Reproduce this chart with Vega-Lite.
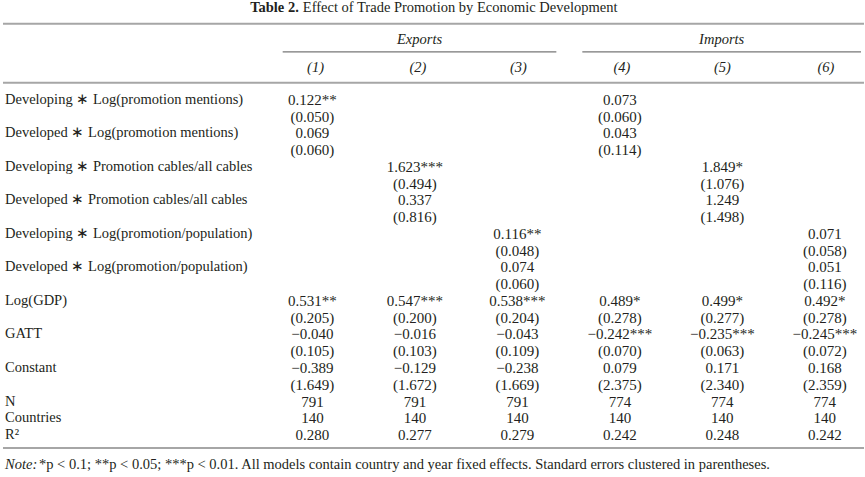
{
  "$schema": "https://vega.github.io/schema/vega-lite/v6.json",
  "width": 865,
  "height": 477,
  "autosize": {"type": "fit", "contains": "padding"},
  "padding": 0,
  "background": "white",
  "config": {"view": {"stroke": null}},
  "datasets": {
    "title": [{"row": -5.476, "col": 0.867, "bold": "Table 2.", "rest": "Effect of Trade Promotion by Economic Development"}],
    "groups": [
      {"row": -3.571, "col": 2.045, "text": "Exports"},
      {"row": -3.571, "col": 4.993, "text": "Imports"},
      {"row": -1.905, "col": 1.03, "text": "(1)"},
      {"row": -1.905, "col": 2.03, "text": "(2)"},
      {"row": -1.905, "col": 3.01, "text": "(3)"},
      {"row": -1.905, "col": 4.02, "text": "(4)"},
      {"row": -1.905, "col": 5.0, "text": "(5)"},
      {"row": -1.905, "col": 6.01, "text": "(6)"}
    ],
    "thickRules": [
      {"row": -4.542, "col": -2.0195, "col2": 6.382},
      {"row": -1.012, "col": -2.0195, "col2": 6.382},
      {"row": 20.77, "col": -2.0195, "col2": 6.382}
    ],
    "thinRules": [
      {"row": -2.857, "col": 0.7096, "col2": 3.38},
      {"row": -2.857, "col": 3.6335, "col2": 6.3529}
    ],
    "labels": [
      {"row": 0, "col": -2, "text": "Developing ∗ Log(promotion mentions)"},
      {"row": 2, "col": -2, "text": "Developed ∗ Log(promotion mentions)"},
      {"row": 4, "col": -2, "text": "Developing ∗ Promotion cables/all cables"},
      {"row": 6, "col": -2, "text": "Developed ∗ Promotion cables/all cables"},
      {"row": 8, "col": -2, "text": "Developing ∗ Log(promotion/population)"},
      {"row": 10, "col": -2, "text": "Developed ∗ Log(promotion/population)"},
      {"row": 12, "col": -2, "text": "Log(GDP)"},
      {"row": 14, "col": -2, "text": "GATT"},
      {"row": 16, "col": -2, "text": "Constant"},
      {"row": 18, "col": -2, "text": "N"},
      {"row": 19, "col": -2, "text": "Countries"},
      {"row": 20, "col": -2, "text": "R²"}
    ],
    "cells": [
      {"row": 0, "col": 1, "text": "0.122**"}, {"row": 0, "col": 4, "text": "0.073"},
      {"row": 1, "col": 1, "text": "(0.050)"}, {"row": 1, "col": 4, "text": "(0.060)"},
      {"row": 2, "col": 1, "text": "0.069"}, {"row": 2, "col": 4, "text": "0.043"},
      {"row": 3, "col": 1, "text": "(0.060)"}, {"row": 3, "col": 4, "text": "(0.114)"},
      {"row": 4, "col": 2, "text": "1.623***"}, {"row": 4, "col": 5, "text": "1.849*"},
      {"row": 5, "col": 2, "text": "(0.494)"}, {"row": 5, "col": 5, "text": "(1.076)"},
      {"row": 6, "col": 2, "text": "0.337"}, {"row": 6, "col": 5, "text": "1.249"},
      {"row": 7, "col": 2, "text": "(0.816)"}, {"row": 7, "col": 5, "text": "(1.498)"},
      {"row": 8, "col": 3, "text": "0.116**"}, {"row": 8, "col": 6, "text": "0.071"},
      {"row": 9, "col": 3, "text": "(0.048)"}, {"row": 9, "col": 6, "text": "(0.058)"},
      {"row": 10, "col": 3, "text": "0.074"}, {"row": 10, "col": 6, "text": "0.051"},
      {"row": 11, "col": 3, "text": "(0.060)"}, {"row": 11, "col": 6, "text": "(0.116)"},
      {"row": 12, "col": 1, "text": "0.531**"}, {"row": 12, "col": 2, "text": "0.547***"}, {"row": 12, "col": 3, "text": "0.538***"},
      {"row": 12, "col": 4, "text": "0.489*"}, {"row": 12, "col": 5, "text": "0.499*"}, {"row": 12, "col": 6, "text": "0.492*"},
      {"row": 13, "col": 1, "text": "(0.205)"}, {"row": 13, "col": 2, "text": "(0.200)"}, {"row": 13, "col": 3, "text": "(0.204)"},
      {"row": 13, "col": 4, "text": "(0.278)"}, {"row": 13, "col": 5, "text": "(0.277)"}, {"row": 13, "col": 6, "text": "(0.278)"},
      {"row": 14, "col": 1, "text": "−0.040"}, {"row": 14, "col": 2, "text": "−0.016"}, {"row": 14, "col": 3, "text": "−0.043"},
      {"row": 14, "col": 4, "text": "−0.242***"}, {"row": 14, "col": 5, "text": "−0.235***"}, {"row": 14, "col": 6, "text": "−0.245***"},
      {"row": 15, "col": 1, "text": "(0.105)"}, {"row": 15, "col": 2, "text": "(0.103)"}, {"row": 15, "col": 3, "text": "(0.109)"},
      {"row": 15, "col": 4, "text": "(0.070)"}, {"row": 15, "col": 5, "text": "(0.063)"}, {"row": 15, "col": 6, "text": "(0.072)"},
      {"row": 16, "col": 1, "text": "−0.389"}, {"row": 16, "col": 2, "text": "−0.129"}, {"row": 16, "col": 3, "text": "−0.238"},
      {"row": 16, "col": 4, "text": "0.079"}, {"row": 16, "col": 5, "text": "0.171"}, {"row": 16, "col": 6, "text": "0.168"},
      {"row": 17, "col": 1, "text": "(1.649)"}, {"row": 17, "col": 2, "text": "(1.672)"}, {"row": 17, "col": 3, "text": "(1.669)"},
      {"row": 17, "col": 4, "text": "(2.375)"}, {"row": 17, "col": 5, "text": "(2.340)"}, {"row": 17, "col": 6, "text": "(2.359)"},
      {"row": 18, "col": 1, "text": "791"}, {"row": 18, "col": 2, "text": "791"}, {"row": 18, "col": 3, "text": "791"},
      {"row": 18, "col": 4, "text": "774"}, {"row": 18, "col": 5, "text": "774"}, {"row": 18, "col": 6, "text": "774"},
      {"row": 19, "col": 1, "text": "140"}, {"row": 19, "col": 2, "text": "140"}, {"row": 19, "col": 3, "text": "140"},
      {"row": 19, "col": 4, "text": "140"}, {"row": 19, "col": 5, "text": "140"}, {"row": 19, "col": 6, "text": "140"},
      {"row": 20, "col": 1, "text": "0.280"}, {"row": 20, "col": 2, "text": "0.277"}, {"row": 20, "col": 3, "text": "0.279"},
      {"row": 20, "col": 4, "text": "0.242"}, {"row": 20, "col": 5, "text": "0.248"}, {"row": 20, "col": 6, "text": "0.242"}
    ],
    "note": [{"row": 21.786, "col": -2, "lead": "Note:", "rest": "*p < 0.1; **p < 0.05; ***p < 0.01. All models contain country and year fixed effects. Standard errors clustered in parentheses."}]
  },
  "encoding": {
    "x": {"field": "col", "type": "quantitative", "scale": {"domain": [-2.04873, 6.38207], "nice": false, "zero": false}, "axis": null},
    "y": {"field": "row", "type": "quantitative", "scale": {"domain": [-5.8929, 22.5], "nice": false, "zero": false, "reverse": true}, "axis": null}
  },
  "layer": [
    {
      "data": {"name": "thickRules"},
      "mark": {"type": "rule", "color": "#a6a6a6", "strokeWidth": 2},
      "encoding": {"x2": {"field": "col2"}}
    },
    {
      "data": {"name": "thinRules"},
      "mark": {"type": "rule", "color": "#777777", "strokeWidth": 1.2},
      "encoding": {"x2": {"field": "col2"}}
    },
    {
      "data": {"name": "title"},
      "mark": {"type": "text", "align": "right", "baseline": "middle", "font": "Liberation Serif", "fontSize": 14.5, "fontWeight": "bold", "color": "#231f20"},
      "encoding": {"text": {"field": "bold"}}
    },
    {
      "data": {"name": "title"},
      "mark": {"type": "text", "align": "left", "baseline": "middle", "dx": 4, "font": "Liberation Serif", "fontSize": 14.5, "color": "#231f20"},
      "encoding": {"text": {"field": "rest"}}
    },
    {
      "data": {"name": "groups"},
      "mark": {"type": "text", "align": "center", "baseline": "middle", "font": "Liberation Serif", "fontSize": 14.5, "fontStyle": "italic", "color": "#231f20"},
      "encoding": {"text": {"field": "text"}}
    },
    {
      "data": {"name": "labels"},
      "mark": {"type": "text", "align": "left", "baseline": "middle", "font": "Liberation Serif", "fontSize": 14.5, "color": "#231f20"},
      "encoding": {"text": {"field": "text"}}
    },
    {
      "data": {"name": "cells"},
      "mark": {"type": "text", "align": "center", "baseline": "middle", "font": "Liberation Serif", "fontSize": 15, "color": "#231f20"},
      "encoding": {"text": {"field": "text"}}
    },
    {
      "data": {"name": "note"},
      "mark": {"type": "text", "align": "left", "baseline": "middle", "font": "Liberation Serif", "fontSize": 14.5, "fontStyle": "italic", "color": "#231f20"},
      "encoding": {"text": {"field": "lead"}}
    },
    {
      "data": {"name": "note"},
      "mark": {"type": "text", "align": "left", "baseline": "middle", "dx": 34, "font": "Liberation Serif", "fontSize": 14.5, "color": "#231f20"},
      "encoding": {"text": {"field": "rest"}}
    }
  ]
}
